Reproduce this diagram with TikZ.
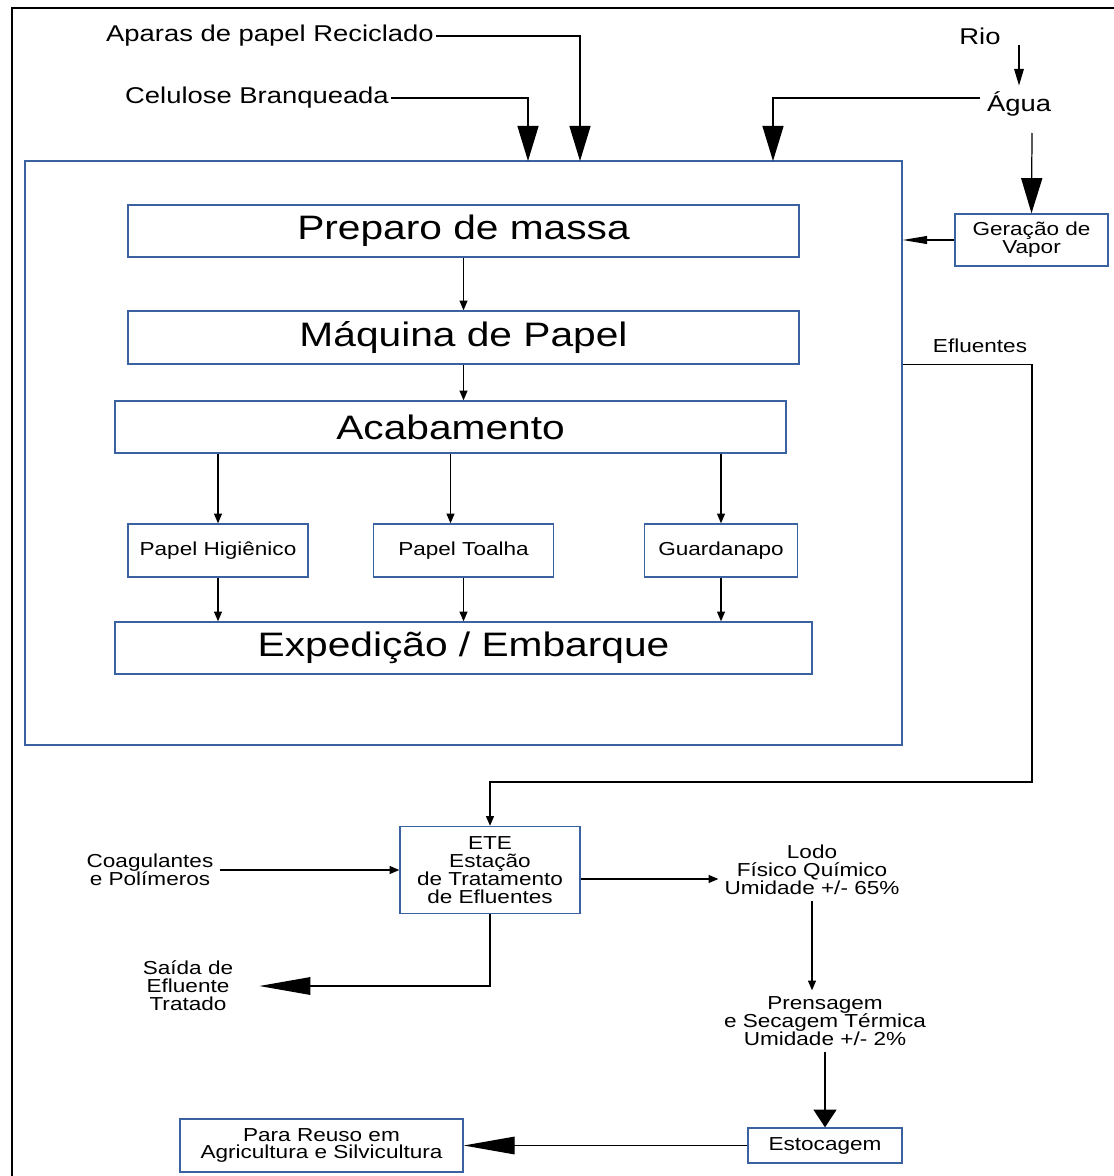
\documentclass[tikz,border=0pt]{standalone}
\usepackage{fontspec}
\setmainfont{Liberation Sans}[FakeStretch=1.2]
\usepackage{tikz}
\usetikzlibrary{arrows.meta}
\definecolor{boxblue}{RGB}{59,98,160}
\newcommand{\fbig}{\fontsize{19.3}{22}\selectfont}
\newcommand{\fmed}{\fontsize{13}{15}\selectfont}
\newcommand{\fsmall}{\fontsize{10.7}{10.2}\selectfont}

\begin{document}
\begin{tikzpicture}[x=0.02cm,y=-0.02cm,
  procbox/.style={draw=boxblue,line width=0.8pt,inner sep=0pt,align=center},
  lbl/.style={align=center,font=\fsmall},
  arr/.style={-{Triangle[length=5.5pt,width=4.5pt]},line width=0.7pt},
  midarr/.style={-{Triangle[length=9.5pt,width=5.5pt]},line width=0.7pt},
  vaparr/.style={-{Triangle[length=14pt,width=4.5pt]},line width=0.7pt},
  bigarr/.style={-{Triangle[length=20pt,width=12pt]},line width=0.7pt},
  estarr/.style={-{Triangle[length=10pt,width=13pt]},line width=0.7pt},
  longarr/.style={-{Triangle[length=29pt,width=10pt]},line width=0.7pt}]
  \useasboundingbox (0,0) rectangle (1114,1176);
  \draw[line width=1.1pt] (12,1180) -- (12,8) -- (1120,8); % outer frame

  % fabrica
  \node[procbox,minimum width=17.54cm,minimum height=11.68cm] (fabrica) at (463.5,453) {};
  \node[procbox,minimum width=13.42cm,minimum height=1.04cm,font=\fbig] (preparo) at (463.5,231) {Preparo de massa};
  \node[procbox,minimum width=13.42cm,minimum height=1.06cm,font=\fbig] (maquina) at (463.5,337.5) {Máquina de Papel};
  \node[procbox,minimum width=13.42cm,minimum height=1.04cm,font=\fbig] (acab) at (450.5,427) {Acabamento};
  \node[procbox,minimum width=3.6cm,minimum height=1.06cm,font=\fsmall] (higien) at (218,550.5) {Papel Higiênico};
  \node[procbox,minimum width=3.6cm,minimum height=1.06cm,font=\fsmall] (toalha) at (463.5,550.5) {Papel Toalha};
  \node[procbox,minimum width=3.06cm,minimum height=1.06cm,font=\fsmall] (guard) at (721,550.5) {Guardanapo};
  \node[procbox,minimum width=13.94cm,minimum height=1.04cm,font=\fbig] (exped) at (463.5,648) {Expedição / Embarque};

  % entradas
  \node[font=\fmed,inner sep=1pt] (aparas) at (270,36) {Aparas de papel Reciclado};
  \node[font=\fmed,inner sep=1pt] (celulose) at (257,98) {Celulose Branqueada};
  \node[font=\fmed] (rio) at (980,36) {Rio};
  \node[font=\fmed] (agua) at (1019,104) {Água};
  \node[procbox,minimum width=3.06cm,minimum height=1.04cm,font=\fsmall] (vapor) at (1031.5,240) {Geração de\\Vapor};
  \node[lbl] (efluentes) at (980,346) {Efluentes};
  \coordinate (inC) at (528,161);
  \coordinate (inA) at (580,161);
  \coordinate (inW) at (773,161);
  \coordinate (rioS) at (1019,45);
  \coordinate (aguaW) at (980,98);
  \coordinate (aguaS) at (1032,133);
  \coordinate (eflB) at (1032,782);

  % tratamento
  \node[procbox,minimum width=3.6cm,minimum height=1.74cm,font=\fsmall] (ete) at (490,870) {ETE\\Estação\\de Tratamento\\de Efluentes};
  \node[lbl] (coag) at (150,870) {Coagulantes\\e Polímeros};
  \node[lbl] (lodo) at (812,870) {Lodo\\Físico Químico\\Umidade +/- 65\%};
  \node[lbl] (prens) at (825,1021) {Prensagem\\e Secagem Térmica\\Umidade +/- 2\%};
  \node[lbl] (saida) at (188,986) {Saída de\\Efluente\\Tratado};
  \node[procbox,minimum width=3.08cm,minimum height=0.7cm,font=\fsmall] (estoc) at (825,1145.5) {Estocagem};
  \node[procbox,minimum width=5.66cm,minimum height=1.06cm,font=\fsmall] (reuso) at (321.5,1145.5) {Para Reuso em\\Agricultura e Silvicultura};

  \draw[bigarr] (aparas.east) -| (inA);
  \draw[bigarr] (celulose.east) -| (inC);
  \draw[bigarr] (aguaW) -| (inW);
  \draw[midarr] (rioS) -- (agua.north);
  \draw[bigarr] (aguaS) -- (vapor.north);
  \draw[vaparr] (vapor.west) -- (vapor.west -| fabrica.east);

  \draw[arr] (preparo) -- (maquina);
  \draw[arr] (maquina.south) -- (maquina.south |- acab.north);
  \draw[arr] (acab.south -| higien.north) -- (higien.north);
  \draw[arr] (acab.south) -- (acab.south |- toalha.north);
  \draw[arr] (acab.south -| guard.north) -- (guard.north);
  \draw[arr] (higien.south) -- (higien.south |- exped.north);
  \draw[arr] (toalha.south) -- (toalha.south |- exped.north);
  \draw[arr] (guard.south) -- (guard.south |- exped.north);

  \draw[arr] (maquina.south -| fabrica.east) -| (eflB) -| (ete.north);
  \draw[arr] (coag.east) -- (coag.east -| ete.west);
  \draw[arr] ([yshift=-0.18cm]ete.east) -- ([yshift=-0.18cm]ete.east -| lodo.west);
  \draw[arr] (lodo.south) -- (lodo.south |- prens.north);
  \draw[estarr] (prens.south) -- (estoc.north);
  \draw[longarr] (estoc.west) -- (reuso.east);
  \draw[longarr] (ete.south) |- ([xshift=0.4cm]saida.east);
\end{tikzpicture}
\end{document}
